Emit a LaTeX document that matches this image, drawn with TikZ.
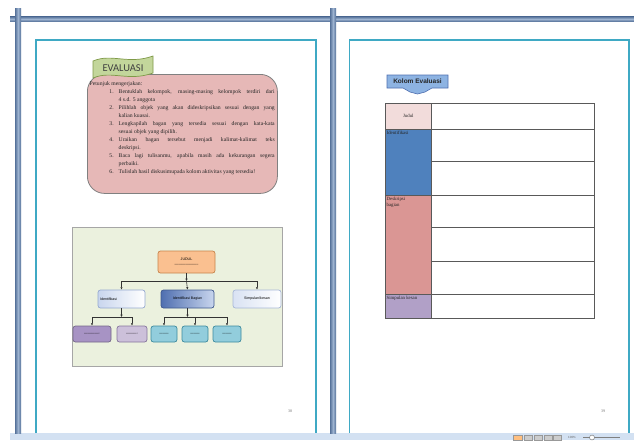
\documentclass[tikz,border=0pt]{standalone}
\usepackage{fontspec}
\setmainfont{Liberation Serif}
\setsansfont{Liberation Sans}
\newfontfamily\carlito{Carlito}
\usetikzlibrary{arrows.meta,calc}
\definecolor{barc}{HTML}{56729A}
\definecolor{barl}{HTML}{9DB3D0}
\definecolor{cyanc}{HTML}{3FA9C4}
\definecolor{pinkc}{HTML}{E6B8B7}
\definecolor{greenc}{HTML}{C3D69B}
\definecolor{greend}{HTML}{7F9A48}
\definecolor{panelc}{HTML}{EBF1DE}
\definecolor{orangec}{HTML}{FAC090}
\definecolor{oranged}{HTML}{C7844A}
\definecolor{purpd}{HTML}{A793C4}
\definecolor{purpl}{HTML}{CCC0DA}
\definecolor{tealc}{HTML}{92CDDC}
\definecolor{teald}{HTML}{3C8A9E}
\definecolor{blued}{HTML}{4F6FB0}
\definecolor{bluel}{HTML}{C9D6EE}
\definecolor{tJ}{HTML}{F2DCDB}
\definecolor{tI}{HTML}{4F81BD}
\definecolor{tD}{HTML}{DA9694}
\definecolor{tS}{HTML}{B1A0C7}
\definecolor{kolc}{HTML}{8DB3E2}
\definecolor{statc}{HTML}{D3E1F2}
\newcommand{\itm}[2]{\par\hangindent=29pt\hangafter=0\noindent\llap{#1.\hspace{5pt}}#2}
\begin{document}
\begin{tikzpicture}[x=1pt,y=-1pt,
  fbox/.style={draw=#1, rounded corners=2.5pt, line width=0.7pt, inner sep=1pt,
    font=\sffamily\fontsize{3.6}{4.4}\selectfont, align=center},
  conn/.style={draw=black!80, line width=0.6pt, -{Latex[length=2.4pt,width=2.4pt]}},
  cell/.style={draw=black!65, line width=0.6pt, anchor=north west, inner sep=0pt},
  ttext/.style={anchor=north west, inner sep=1.5pt, font=\fontsize{4.8}{6}\selectfont, align=left, text=black!85},
  pgnum/.style={font=\fontsize{4}{5}\selectfont, text=black!55, inner sep=0pt}]
\useasboundingbox (0,0) rectangle (634,440);
\fill[white] (0,0) rectangle (634,440);
% window frame bars
\fill[statc] (10,433) rectangle (634,440);
\shade[top color=barc, bottom color=barc, middle color=barl] (10,16.5) rectangle (634,21.5);
\shade[left color=barc, right color=barc, middle color=barl] (15,8) rectangle (21,433);
\shade[left color=barc, right color=barc, middle color=barl] (330,8) rectangle (336,433);
% page frames
\draw[cyanc, line width=1.4pt] (36,433) -- (36,40) -- (316,40) -- (316,433);
\draw[cyanc, line width=1.4pt] (349.5,433) -- (349.5,40) -- (629,40) -- (629,433);
% status bar icons
\fill[orange!50, draw=black!40, line width=0.3pt] (513,435) rectangle (522,440);
\foreach \xa in {524,534,544,553}{\fill[white!80!black, draw=black!40, line width=0.3pt] (\xa,435) rectangle (\xa+8,440);}
\node[font=\fontsize{3}{3}\sffamily, text=black!60, inner sep=0pt] (zoomtxt) at (572,437.5) {100\%};
\draw[black!50, line width=0.4pt] (583,437.5) -- (620,437.5);
\draw[black!60, fill=white, line width=0.4pt] (592,437.5) circle (2.5);

% ---------- left page ----------
\node[draw=black!50, fill=pinkc, rounded corners=17pt, line width=0.8pt,
  minimum width=190pt, minimum height=119pt, anchor=north west, inner sep=0pt] (box) at (87,74) {};
\node[anchor=north west, inner sep=0pt, text width=185pt, align=justify,
  font=\fontsize{5.7}{8}\selectfont, text=black!85] (instr) at (89.5,81.5)
{\hyphenpenalty=10000\exhyphenpenalty=10000\noindent Petunjuk mengerjakan:
\itm{1}{Bentuklah kelompok, masing-masing kelompok terdiri dari\linebreak 4 s.d. 5 anggota}
\itm{2}{Pilihlah objek yang akan dideskripsikan sesuai dengan yang\linebreak kalian kuasai.}
\itm{3}{Lengkapilah bagan yang tersedia sesuai dengan kata-kata\linebreak sesuai objek yang dipilih.}
\itm{4}{Uraikan bagan tersebut menjadi kalimat-kalimat teks\linebreak deskripsi.}
\itm{5}{Baca lagi tulisanmu, apabila masih ada kekurangan segera\linebreak perbaiki.}
\itm{6}{Tulislah hasil diskusimupada kolom aktivitas yang tersedia!}\par};
% flag
\filldraw[fill=greenc, draw=greend, line width=0.7pt]
  (93,61) .. controls (112,53) and (128,65) .. (153,56) -- (153,73)
  .. controls (128,82) and (112,70) .. (93,78) -- cycle;
\node[font=\carlito\fontsize{10.5}{10.5}\selectfont, text=black!75, inner sep=0pt] (evtitle) at (123,68) {EVALUASI};

% flowchart panel
\node[draw=black!35, fill=panelc, line width=0.8pt, minimum width=210pt, minimum height=139pt,
  anchor=north west, inner sep=0pt] (panel) at (72,227) {};
\node[fbox=oranged, fill=orangec, minimum width=57pt, minimum height=22pt] (judul) at (186.5,262) {JUDUL\\[1pt]--------------------};
\node[fbox=blued!60, left color=bluel, right color=white, minimum width=47pt, minimum height=18pt, text width=43pt, align=left] (id) at (121.5,299) {Identifikasi};
\node[fbox=blued!80!black, left color=blued, right color=bluel, minimum width=53pt, minimum height=18pt] (ib) at (187.5,299) {Identifikasi Bagian};
\node[fbox=blued!50, left color=bluel!70, right color=white, minimum width=48pt, minimum height=18pt] (sk) at (257,299) {Simpulan/kesan};
\node[fbox=purpd!70!black, fill=purpd, minimum width=38pt, minimum height=16pt] (p1) at (92,334) {-------------};
\node[fbox=purpd!80!black, fill=purpl, minimum width=30pt, minimum height=16pt] (p2) at (132,334) {----------};
\node[fbox=teald, fill=tealc, minimum width=26pt, minimum height=16pt] (t1) at (164,334) {--------};
\node[fbox=teald, fill=tealc, minimum width=26pt, minimum height=16pt] (t2) at (195,334) {--------};
\node[fbox=teald, fill=tealc, minimum width=28pt, minimum height=16pt] (t3) at (227,334) {--------};
\coordinate (b1) at (186.5,281);
\coordinate (b2) at (121.5,317);
\coordinate (b3) at (187.5,317);
\draw[conn] (judul.south) -- (b1);
\draw[conn] (b1) -- (ib.north);
\draw[conn] (b1) -| (id.north);
\draw[conn] (b1) -| (sk.north);
\draw[conn] (id.south) -- (b2);
\draw[conn] (b2) -| (p1.north);
\draw[conn] (b2) -| (p2.north);
\draw[conn] (ib.south) -- (b3);
\draw[conn] (b3) -| (t1.north);
\draw[conn] (b3) -| (t2.north);
\draw[conn] (b3) -| (t3.north);
\node[pgnum] (pn1) at (290,411) {38};

% ---------- right page ----------
\filldraw[fill=kolc, draw=blued, line width=0.6pt]
  (387,75) -- (448,75) -- (448,88) -- (432,88) -- (425,92) -- (417.5,94) -- (410,92) -- (403,88) -- (387,88) -- cycle;
\node[font=\sffamily\bfseries\fontsize{6.5}{7}\selectfont, text=black!85, inner sep=0pt] (koltitle) at (417.5,81.5) {Kolom Evaluasi};
% table left column
\node[cell, fill=tJ, minimum width=46pt, minimum height=26pt] (cJ) at (385,103) {};
\node[cell, fill=tI, minimum width=46pt, minimum height=66pt] (cI) at (385,129) {};
\node[cell, fill=tD, minimum width=46pt, minimum height=99pt] (cD) at (385,195) {};
\node[cell, fill=tS, minimum width=46pt, minimum height=24pt] (cS) at (385,294) {};
\node[font=\fontsize{4.8}{6}\selectfont, text=black!85, inner sep=0pt] (tJtxt) at (cJ.center) {Judul};
\node[ttext] (tItxt) at (cI.north west) {Identifikasi};
\node[ttext] (tDtxt) at (cD.north west) {Deskripsi\\bagian};
\node[ttext] (tStxt) at (cS.north west) {Simpulan kesan};
% table right column
\node[cell, fill=white, minimum width=163pt, minimum height=26pt] (r1) at (431,103) {};
\node[cell, fill=white, minimum width=163pt, minimum height=32pt] (r2) at (431,129) {};
\node[cell, fill=white, minimum width=163pt, minimum height=34pt] (r3) at (431,161) {};
\node[cell, fill=white, minimum width=163pt, minimum height=32pt] (r4) at (431,195) {};
\node[cell, fill=white, minimum width=163pt, minimum height=34pt] (r5) at (431,227) {};
\node[cell, fill=white, minimum width=163pt, minimum height=33pt] (r6) at (431,261) {};
\node[cell, fill=white, minimum width=163pt, minimum height=24pt] (r7) at (431,294) {};
\node[pgnum] (pn2) at (603,411) {39};
\end{tikzpicture}
\end{document}
